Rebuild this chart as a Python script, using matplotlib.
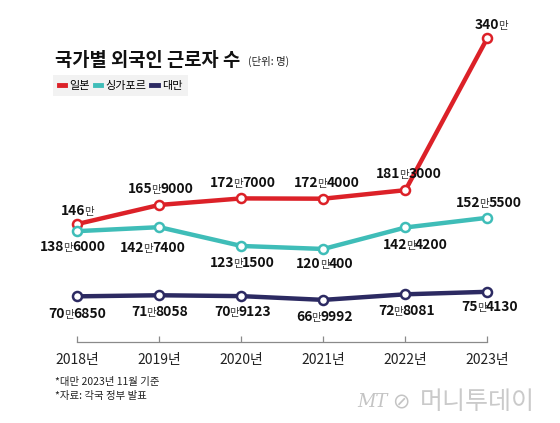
import numpy as np
import matplotlib.pyplot as plt
from matplotlib.lines import Line2D
from matplotlib.offsetbox import TextArea, HPacker, AnnotationBbox

plt.rcParams['font.family'] = ['Noto Sans CJK KR', 'DejaVu Sans']

# Data (people)
years = [2018, 2019, 2020, 2021, 2022, 2023]
japan = [1460000, 1659000, 1727000, 1724000, 1813000, 3400000]
singapore = [1386000, 1427400, 1231500, 1200400, 1424200, 1525500]
taiwan = [706850, 718058, 709123, 669992, 728081, 754130]
series_names = ['일본', '싱가포르', '대만']
tick_labels = [f'{y}년' for y in years]

colors = ['#dc2128', '#3fbdb8', '#2c2a62']

# label offsets in px (dx, dy) relative to each point
offsets = [
    [(0, 13), (1, 16), (1, 15), (3, 16), (3, 16), (4, 13)],
    [(-5, -16), (-7, -21), (1, -17), (1, -15), (10, -18), (1, 15)],
    [(0, -18), (0, -17), (1, -16), (1, -17), (1, -17), (2, -15)],
]

W, H = 560, 423
fig = plt.figure(figsize=(W / 100, H / 100), dpi=100)
ax = fig.add_axes([36.3 / W, 58.8 / H, 492.2 / W, 355.2 / H])
ax.set_xlim(2017.5, 2023.5)
ax.set_ylim(0, 370)
ax.patch.set_visible(False)

px = 0.72  # points per pixel

for vals, col, offs in zip([japan, singapore, taiwan], colors, offsets):
    y = np.array(vals) / 10000
    ax.plot(years, y, color=col, lw=3.2, solid_capstyle='round', zorder=2,
            marker='o', ms=6.5, mfc='white', mec=col, mew=1.8)
    for x, v, (dx, dy) in zip(years, vals, offs):
        man, rest = divmod(v, 10000)
        parts = [TextArea(str(man), textprops=dict(fontsize=10, fontweight='bold', color='#111111')),
                 TextArea('만', textprops=dict(fontsize=7.5, color='#333333'))]
        if rest:
            parts.append(TextArea(str(rest), textprops=dict(fontsize=10, fontweight='bold', color='#111111')))
        box = HPacker(children=parts, align='baseline', pad=0, sep=-0.6)
        ab = AnnotationBbox(box, (x, v / 10000), xybox=(dx * px, dy * px),
                            xycoords='data', boxcoords='offset points',
                            frameon=False, box_alignment=(0.5, 0.5), zorder=5)
        ax.add_artist(ab)

# axis
for s in ['left', 'right', 'top']:
    ax.spines[s].set_visible(False)
ax.spines['bottom'].set_position(('data', 23.1))
ax.spines['bottom'].set_bounds(2018, 2023)
ax.spines['bottom'].set_color('#8a8a8a')
ax.spines['bottom'].set_linewidth(0.9)
ax.set_yticks([])
ax.set_xticks(years)
ax.set_xticklabels(tick_labels)
ax.tick_params(axis='x', direction='in', length=4.5, width=0.9, color='#8a8a8a',
               pad=8, labelsize=10, labelcolor='#222222')

# title
fig.text(55 / W, 1 - 60 / H, '국가별 외국인 근로자 수', fontsize=13.5, fontweight='bold',
         va='center', ha='left', color='#111111')
fig.text(248 / W, 1 - 61 / H, '(단위: 명)', fontsize=7.5, va='center', ha='left', color='#222222')

# legend
handles = [Line2D([0], [0], color=c, lw=3.5) for c in colors]
leg = fig.legend(handles, series_names, loc='upper left', bbox_to_anchor=(53 / W, 1 - 75 / H),
                 ncol=3, handlelength=0.6, handletextpad=0.35, columnspacing=0.45,
                 fontsize=8, frameon=True, fancybox=False, borderpad=0.5,
                 borderaxespad=0)
leg.get_frame().set_facecolor('#efefef')
leg.get_frame().set_edgecolor('none')

# notes
fig.text(55 / W, 1 - 382 / H, '*대만 2023년 11월 기준', fontsize=7.5, va='center', color='#222222')
fig.text(55 / W, 1 - 396 / H, '*자료: 각국 정부 발표', fontsize=7.5, va='center', color='#222222')

# logo
fig.text(357 / W, 1 - 402 / H, 'MT', fontsize=13, style='italic', va='center', color='#c4c4c4',
         family='DejaVu Serif')
fig.text(392 / W, 1 - 402 / H, '⊘', fontsize=15, va='center', color='#c4c4c4', family='DejaVu Sans')
fig.text(420 / W, 1 - 402 / H, '머니투데이', fontsize=18, va='center', color='#cacaca',
         fontweight='light')

fig.savefig('out.png', dpi=100)
